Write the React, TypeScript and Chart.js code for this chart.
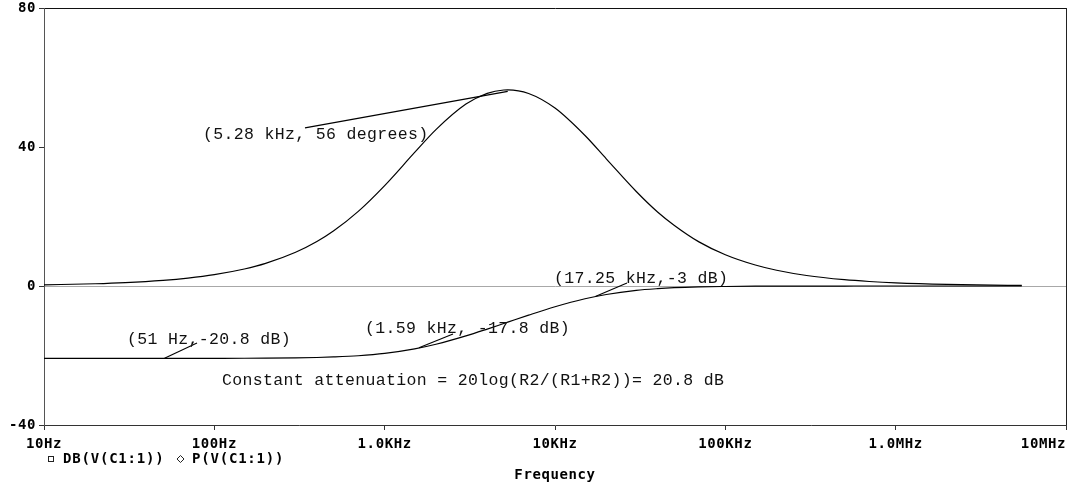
import React, { useEffect, useRef } from 'react';
import { Chart, registerables } from 'chart.js';

Chart.register(...registerables);

// ---- data ----
const frequencies = [
  10, 20, 30, 50, 70, 100, 150, 200, 300, 400, 500, 700, 1000, 1500, 2000, 3000, 4000, 5000, 5280,
  7000, 10000, 15000, 20000, 30000, 40000, 50000, 70000, 100000, 150000, 200000, 300000, 500000,
  700000, 1000000, 2000000, 3000000, 5500000,
];
const magnitudeDb = [
  -20.83, -20.83, -20.82, -20.82, -20.82, -20.81, -20.79, -20.76, -20.68, -20.57, -20.42, -20.07,
  -19.4, -18.1, -16.77, -14.37, -12.4, -10.8, -10.41, -8.39, -5.98, -3.68, -2.44, -1.26, -0.76,
  -0.49, -0.26, -0.14, -0.06, -0.04, -0.02, -0.01, 0, 0, 0, 0, 0,
];
const phaseDeg = [
  0.33, 0.65, 0.98, 1.64, 2.29, 3.27, 4.9, 6.51, 9.71, 12.81, 15.82, 21.48, 28.9, 38.43, 45.0,
  52.35, 55.44, 56.41, 56.44, 55.4, 51.2, 43.3, 36.6, 27.2, 21.3, 17.5, 12.7, 9.0, 6.04, 4.54, 3.03,
  1.82, 1.3, 0.91, 0.45, 0.3, 0.17,
];
const seriesNames = ['DB(V(C1:1))', 'P(V(C1:1))'];

const xTickValues = [10, 100, 1000, 10000, 100000, 1000000, 10000000];
const xTickLabels = ['10Hz', '100Hz', '1.0KHz', '10KHz', '100KHz', '1.0MHz', '10MHz'];
const yTickValues = [-40, 0, 40, 80];
const yTickLabels = ['-40', '0', '40', '80'];
const xAxisTitle = 'Frequency';

const annotationLabels = [
  '(5.28 kHz, 56 degrees)',
  '(51 Hz,-20.8 dB)',
  '(1.59 kHz, -17.8 dB)',
  '(17.25 kHz,-3 dB)',
  'Constant attenuation = 20log(R2/(R1+R2))= 20.8 dB',
];
const annotationTextFreq = [85.8, 30.7, 766.6, 9867, 110.9];
const annotationTextValue = [43.7, -15.4, -12.4, 2.2, -27.3];
const leaderStartFreq = [340.6, 79.1, 2519, 26470, null];
const leaderStartValue = [45.5, -16.4, -13.8, 0.86, null];
const markedFreq = [5280, 51, 1590, 17250, null];
const markedValue = [56, -20.8, -17.8, -3, null];

const AXIS_FONT = { family: '"DejaVu Sans Mono", monospace', size: 14, weight: 'bold' as const };

const spacingPlugin = {
  id: 'spacing',
  beforeDraw(chart: any) {
    (chart.ctx as any).letterSpacing = '0.6px';
  },
  afterDraw(chart: any) {
    (chart.ctx as any).letterSpacing = '0px';
  },
};

const annotationPlugin = {
  id: 'annotations',
  afterDatasetsDraw(chart: any) {
    const { ctx, scales } = chart;
    const xs = scales.x;
    const ys = scales.y;
    ctx.save();
    ctx.strokeStyle = '#000';
    ctx.lineWidth = 1.1;
    for (let i = 0; i < annotationLabels.length; i++) {
      const lf = leaderStartFreq[i];
      const lv = leaderStartValue[i];
      const mf = markedFreq[i];
      const mv = markedValue[i];
      if (lf !== null && lv !== null && mf !== null && mv !== null) {
        ctx.beginPath();
        ctx.moveTo(xs.getPixelForValue(lf), ys.getPixelForValue(lv));
        ctx.lineTo(xs.getPixelForValue(mf), ys.getPixelForValue(mv));
        ctx.stroke();
      }
    }
    (ctx as any).letterSpacing = '0.35px';
    ctx.fillStyle = '#111';
    ctx.font = '16.5px "Liberation Mono", monospace';
    ctx.textAlign = 'left';
    ctx.textBaseline = 'middle';
    for (let i = 0; i < annotationLabels.length; i++) {
      ctx.fillText(
        annotationLabels[i],
        xs.getPixelForValue(annotationTextFreq[i]),
        ys.getPixelForValue(annotationTextValue[i])
      );
    }
    ctx.restore();
  },
};

const legendPlugin = {
  id: 'bottomLegend',
  afterDraw(chart: any) {
    const { ctx } = chart;
    const names = chart.data.datasets.map((d: any) => d.label);
    ctx.save();
    (ctx as any).letterSpacing = '0.8px';
    ctx.strokeStyle = '#222';
    ctx.lineWidth = 1;
    const y = 459;
    // square marker
    ctx.strokeRect(48.5, y - 2.5, 5, 5);
    ctx.fillStyle = '#000';
    ctx.font = `bold ${AXIS_FONT.size}px ${AXIS_FONT.family}`;
    ctx.textAlign = 'left';
    ctx.textBaseline = 'middle';
    ctx.fillText(names[0], 63, y + 0.5);
    // diamond marker
    ctx.beginPath();
    ctx.moveTo(180.5, y - 3.5);
    ctx.lineTo(184, y);
    ctx.lineTo(180.5, y + 3.5);
    ctx.lineTo(177, y);
    ctx.closePath();
    ctx.stroke();
    ctx.fillText(names[1], 192, y + 0.5);
    ctx.restore();
  },
};

function zeroPadding(scale: any) {
  scale.paddingLeft = 0;
  scale.paddingRight = 0;
  scale.paddingTop = 0;
  scale.paddingBottom = 0;
}

export default function App() {
  const canvasRef = useRef<HTMLCanvasElement | null>(null);

  useEffect(() => {
    if (!canvasRef.current) return;
    const chart = new Chart(canvasRef.current, {
      type: 'line',
      data: {
        datasets: [
          {
            label: seriesNames[0],
            data: frequencies.map((f, i) => ({ x: f, y: magnitudeDb[i] })),
            borderColor: '#000',
            borderWidth: 1.2,
            pointRadius: 0,
            cubicInterpolationMode: 'monotone',
            fill: false,
          },
          {
            label: seriesNames[1],
            data: frequencies.map((f, i) => ({ x: f, y: phaseDeg[i] })),
            borderColor: '#000',
            borderWidth: 1.2,
            pointRadius: 0,
            cubicInterpolationMode: 'monotone',
            fill: false,
          },
        ],
      },
      options: {
        responsive: false,
        animation: false,
        events: [],
        layout: { padding: { top: 8, right: 6, bottom: 0, left: 0 } },
        plugins: {
          legend: { display: false },
          tooltip: { enabled: false },
          title: { display: false },
        },
        scales: {
          x: {
            type: 'logarithmic',
            min: 10,
            max: 10000000,
            afterBuildTicks: (scale: any) => {
              scale.ticks = xTickValues.map((v) => ({ value: v }));
            },
            afterFit: (scale: any) => {
              scale.height = 61;
              zeroPadding(scale);
            },
            ticks: {
              autoSkip: false,
              maxRotation: 0,
              minRotation: 0,
              padding: 6,
              color: '#000',
              font: AXIS_FONT,
              callback: (_v: any, index: number) =>
                index === xTickLabels.length - 1
                  ? xTickLabels[index] + ' '.repeat(xTickLabels[index].length)
                  : xTickLabels[index],
            },
            grid: {
              display: true,
              drawOnChartArea: true,
              drawTicks: true,
              tickLength: 5,
              lineWidth: 1,
              color: (ctx: any) =>
                ctx.tick && ctx.tick.value === 10000000 ? '#222' : 'rgba(0,0,0,0)',
              tickColor: '#333',
            },
            border: { display: true, color: '#333', width: 1 },
            title: {
              display: true,
              text: xAxisTitle,
              color: '#000',
              font: AXIS_FONT,
              padding: { top: 0, bottom: 2 },
            },
          },
          y: {
            type: 'linear',
            min: -40,
            max: 80,
            afterBuildTicks: (scale: any) => {
              scale.ticks = yTickValues.map((v) => ({ value: v }));
            },
            afterFit: (scale: any) => {
              scale.width = 44;
              zeroPadding(scale);
            },
            ticks: {
              padding: 3,
              color: '#000',
              font: AXIS_FONT,
              callback: (_v: any, index: number) => yTickLabels[index],
            },
            grid: {
              display: true,
              drawOnChartArea: true,
              drawTicks: true,
              tickLength: 5,
              lineWidth: 1,
              color: (ctx: any) => {
                if (!ctx.tick) return 'rgba(0,0,0,0)';
                if (ctx.tick.value === 0) return '#a8a8a8';
                if (ctx.tick.value === 80) return '#111';
                return 'rgba(0,0,0,0)';
              },
              tickColor: '#333',
            },
            border: { display: true, color: '#555', width: 1 },
          },
        },
      } as any,
      plugins: [spacingPlugin, annotationPlugin, legendPlugin],
    });
    return () => chart.destroy();
  }, []);

  return (
    <div style={{ position: 'absolute', left: 0, top: 0, width: 1072, height: 486, background: '#fff' }}>
      <canvas ref={canvasRef} width={1072} height={486} style={{ display: 'block' }} />
    </div>
  );
}
